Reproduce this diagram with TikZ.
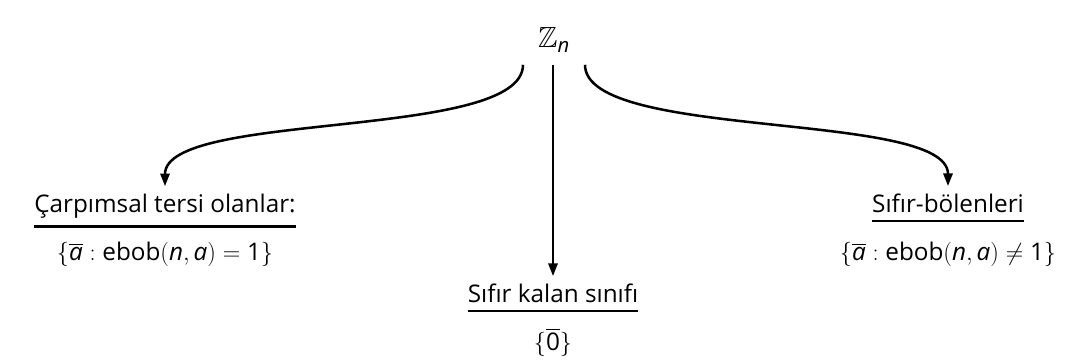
\documentclass[tikz,border=0pt]{standalone}
\usepackage{amsmath,amssymb}
\usepackage{fix-cm}
\usepackage{fontspec}
\setmainfont{Open Sans}
\usepackage{tikz}
\usetikzlibrary{positioning,arrows.meta}
\newcommand\lbfont{\fontsize{17.28}{20}\selectfont}
\tikzset{
  okk/.style={line width=1.8pt, -{Triangle[length=9pt,width=6.5pt]}},
  lbl/.style={anchor=base, inner xsep=0pt, inner ysep=5pt},
  ul/.style={line width=1.8pt}
}

\begin{document}
\begin{tikzpicture}[every node/.style={font=\lbfont}]
  \useasboundingbox (0,0) rectangle (26.95,-9);
  \node (Zn) at (13.85,-1.0) {\fontsize{20.74}{24}\selectfont$\mathbb{Z}_{\mathit{n}}$};
  \coordinate (sl) at (13.075,-1.62);
  \coordinate (sm) at (13.825,-1.62);
  \coordinate (sr) at (14.625,-1.62);
  \foreach \nm/\x/\y/\lab/\st in {
    tersi/4.125/-5.3/{Çarpımsal tersi olanlar:}/{$\{\overline{\mathit{a}} : \mathrm{ebob}(\mathit{n}, \mathit{a}) = \mathrm{1}\}$},
    sifir/13.825/-7.55/{Sıfır kalan sınıfı}/{$\{\overline{\mathrm{0}}\}$},
    bolen/23.7/-5.3/{Sıfır-bölenleri}/{$\{\overline{\mathit{a}} : \mathrm{ebob}(\mathit{n}, \mathit{a}) \neq \mathrm{1}\}$}%
  }{
    \node[lbl] (\nm) at (\x,\y) {\lab};
    \draw[ul] ([yshift=-1pt]\nm.south west) -- ([yshift=-1pt]\nm.south east);
    \node[anchor=base] (\nm set) at (\x,\y-1.22) {\st};
  }
  \draw[okk] (sl) .. controls +(0,-1.9) and +(0,1.9) .. (tersi.north);
  \draw[okk] (sm) -- (sifir.north);
  \draw[okk] (sr) .. controls +(0,-1.9) and +(0,1.9) .. (bolen.north);
\end{tikzpicture}
\end{document}
